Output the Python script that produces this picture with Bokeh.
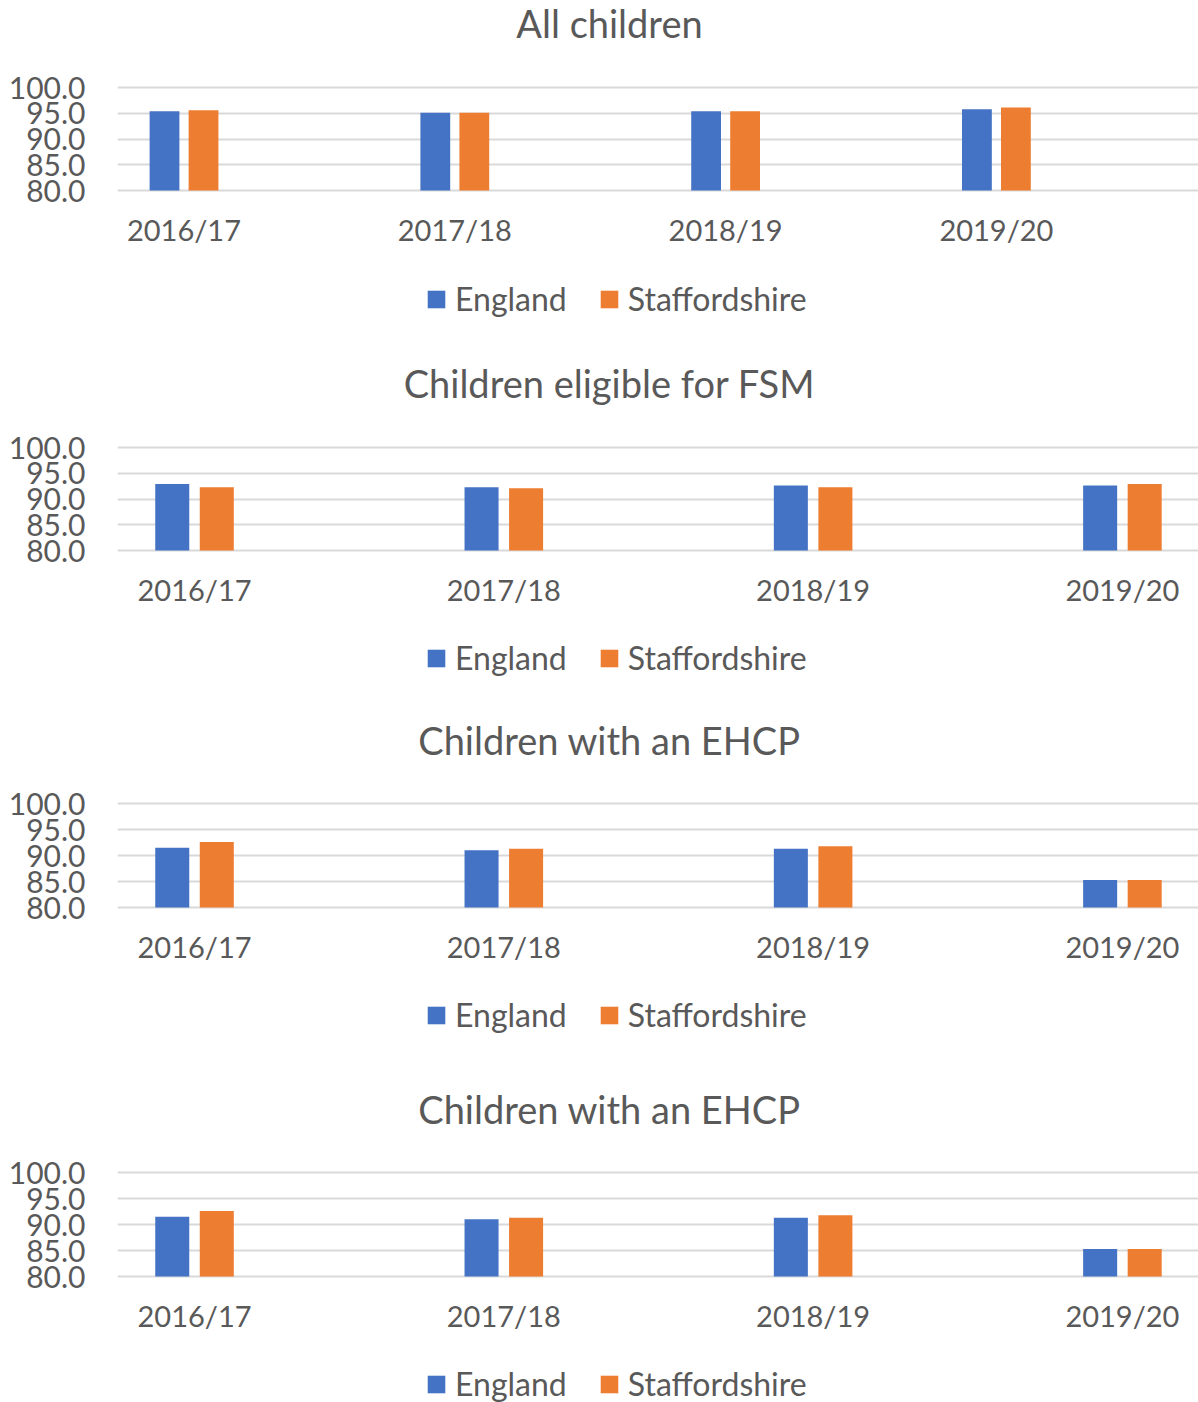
from bokeh.plotting import figure
from bokeh.models import (ColumnDataSource, Range1d, FixedTicker, NumeralTickFormatter,
                          Label, Legend, LegendItem)
from bokeh.layouts import column
from bokeh.transform import dodge
from bokeh.embed import file_html
from bokeh.resources import INLINE

# ---- data -------------------------------------------------------------
years = ["2016/17", "2017/18", "2018/19", "2019/20"]
series_names = ["England", "Staffordshire"]
y_ticks = [80, 85, 90, 95, 100]

titles = ["All children", "Children eligible for FSM",
          "Children with an EHCP", "Children with an EHCP"]

all_england = [95.4, 95.1, 95.4, 95.8]
all_staffs = [95.6, 95.1, 95.4, 96.1]

fsm_england = [92.9, 92.3, 92.6, 92.6]
fsm_staffs = [92.3, 92.1, 92.3, 92.9]

ehcp_england = [91.5, 91.0, 91.3, 85.3]
ehcp_staffs = [92.6, 91.3, 91.8, 85.3]

panel_data = [
    (all_england, all_staffs),
    (fsm_england, fsm_staffs),
    (ehcp_england, ehcp_staffs),
    (ehcp_england, ehcp_staffs),
]

# ---- styling ----------------------------------------------------------
FONT = "Lato"
TEXT = "#595959"
GRID = "#D9D9D9"
COLORS = ["#4472C4", "#ED7D31"]
BAR_W = 0.11
OFFSET = 0.072

# per-panel geometry: x range start, pixels per category, panel height,
# pixel rows of the 100 / 80 grid lines, title row and legend row
layouts = [
    dict(x0=-0.2456, ppx=270.8, h=360, g100=87, g80=190, ty=22, ly=298),
    dict(x0=-0.249, ppx=309.3, h=356, g100=87, g80=190, ty=22, ly=297),
    dict(x0=-0.249, ppx=309.3, h=369, g100=87, g80=191, ty=23, ly=298),
    dict(x0=-0.249, ppx=309.3, h=317, g100=87, g80=191, ty=23, ly=298),
]

FRAME_W = 1081
LEFT = 117


def make_panel(title, england, staffs, geo):
    x_end = geo["x0"] + FRAME_W / geo["ppx"]
    ppy = (geo["g80"] - geo["g100"]) / 20.0
    y_hi = 100 + geo["g100"] / ppy
    y_lo = 80 - (geo["h"] - geo["g80"]) / ppy

    p = figure(frame_width=FRAME_W, frame_height=geo["h"],
               min_border_left=LEFT, min_border_right=0,
               min_border_top=0, min_border_bottom=0,
               x_range=Range1d(geo["x0"], x_end), y_range=Range1d(y_lo, y_hi),
               output_backend="svg", toolbar_location=None, tools="")
    p.outline_line_color = None
    p.background_fill_color = "white"
    p.border_fill_color = "white"

    src = ColumnDataSource(dict(x=list(range(len(years))), england=england, staffs=staffs))
    r1 = p.vbar(x=dodge("x", -OFFSET, range=p.x_range), top="england", bottom=80,
                width=BAR_W, source=src, fill_color=COLORS[0], line_color=None)
    r2 = p.vbar(x=dodge("x", OFFSET, range=p.x_range), top="staffs", bottom=80,
                width=BAR_W, source=src, fill_color=COLORS[1], line_color=None)

    # axes: the category axis sits on the 80 baseline
    p.xaxis.ticker = FixedTicker(ticks=list(range(len(years))))
    p.xaxis.major_label_overrides = {i: y for i, y in enumerate(years)}
    p.xaxis.fixed_location = 80
    p.yaxis.ticker = FixedTicker(ticks=y_ticks)
    p.yaxis.formatter = NumeralTickFormatter(format="0.0")
    for ax in (p.xaxis, p.yaxis):
        ax.axis_line_color = None
        ax.major_tick_line_color = None
        ax.minor_tick_line_color = None
        ax.major_label_text_font = FONT
        ax.major_label_text_color = TEXT
    p.xaxis.major_label_text_font_size = "29px"
    p.yaxis.major_label_text_font_size = "30px"
    p.xaxis.major_label_standoff = 15
    p.yaxis.major_label_standoff = 26

    p.xgrid.visible = False
    p.ygrid.ticker = FixedTicker(ticks=y_ticks)
    p.ygrid.grid_line_color = GRID
    p.ygrid.grid_line_width = 2

    # chart title
    p.add_layout(Label(x=geo["x0"] + (609 - LEFT) / geo["ppx"], y=y_hi - geo["ty"] / ppy,
                       text=title, text_font=FONT, text_font_size="38px",
                       text_color=TEXT, text_align="center", text_baseline="middle"))

    # legend under the category labels
    legend = Legend(items=[LegendItem(label=series_names[0], renderers=[r1]),
                           LegendItem(label=series_names[1], renderers=[r2])],
                    orientation="horizontal",
                    location=(425 - LEFT, geo["h"] - geo["ly"] - 20),
                    label_text_font=FONT, label_text_font_size="32px",
                    label_text_color=TEXT, glyph_width=22, glyph_height=22,
                    label_standoff=8, spacing=31, padding=0, margin=0,
                    border_line_color=None, background_fill_alpha=0)
    p.add_layout(legend)
    return p


plots = [make_panel(t, e, s, g) for t, (e, s), g in zip(titles, panel_data, layouts)]
page = column(*plots, spacing=0)

open("out.html", "w").write(file_html(page, INLINE))
